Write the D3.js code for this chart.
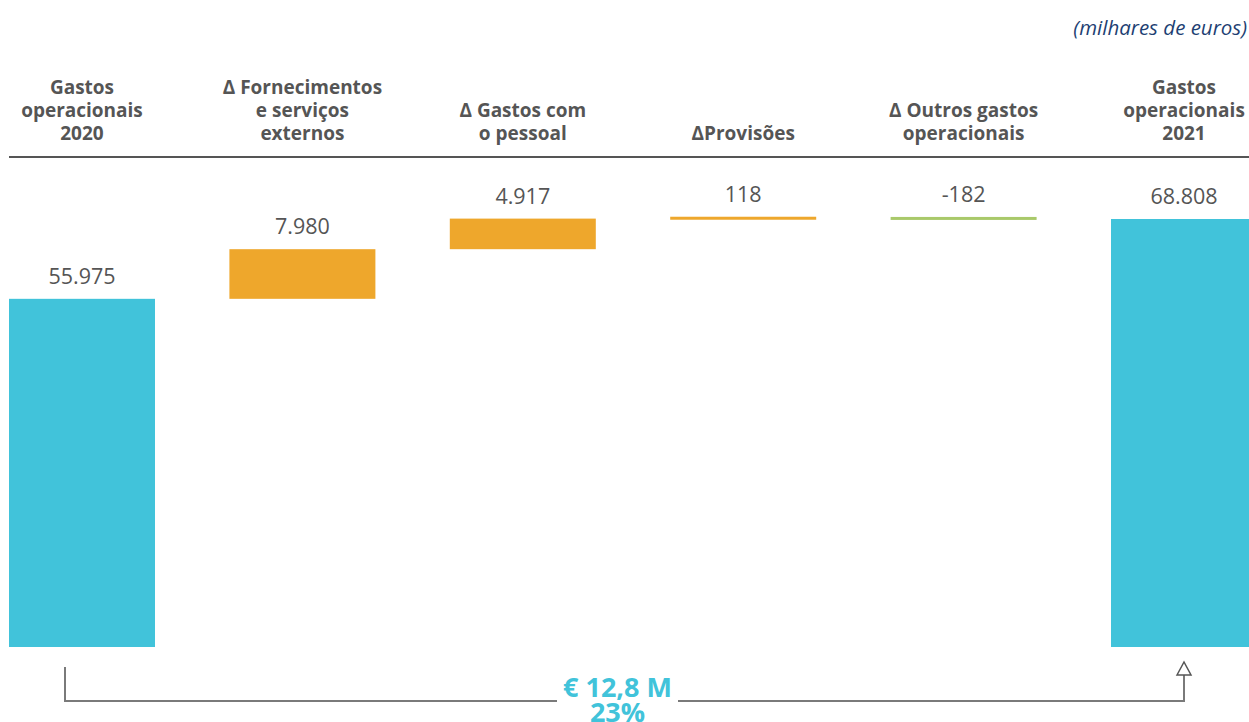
<!DOCTYPE html>
<html><head><meta charset="utf-8">
<script src="https://cdn.jsdelivr.net/npm/d3@7"></script>
<style>
html,body{margin:0;padding:0;background:#fff;}
svg{display:block;}
</style></head>
<body>
<script>
const categories = [
  ["Gastos", "operacionais", "2020"],
  ["Δ Fornecimentos", "e serviços", "externos"],
  ["Δ Gastos com", "o pessoal"],
  ["ΔProvisões"],
  ["Δ Outros gastos", "operacionais"],
  ["Gastos", "operacionais", "2021"]
];
const kinds = ["total", "delta", "delta", "delta", "delta", "total"];
const values = [55975, 7980, 4917, 118, -182, 68808];
const valueLabels = ["55.975", "7.980", "4.917", "118", "-182", "68.808"];
const unitLabel = "(milhares de euros)";
const changeLabels = ["€ 12,8 M", "23%"];

const W = 1249, H = 722;
const svg = d3.select("body").append("svg").attr("width", W).attr("height", H);

const colors = {total: "#41c3da", up: "#eea72c", down: "#a9c96a"};
const textGray = "#555555";

// compute waterfall
let run = 0;
const bars = values.map((v, i) => {
  let start, end;
  if (kinds[i] === "total") { start = 0; end = v; run = v; }
  else { start = run; end = run + v; run = end; }
  return {i, v, start, end, kind: kinds[i], label: valueLabels[i]};
});

const x = d3.scaleBand().domain(d3.range(categories.length)).range([9, 1257]).paddingInner(0.3376).paddingOuter(0);
const y = d3.scaleLinear().domain([0, 68808]).range([647, 219]);

// unit label
svg.append("text").attr("x", 1247).attr("y", 35).attr("text-anchor", "end")
  .attr("font-family", "'Open Sans', sans-serif").attr("font-style", "italic")
  .attr("font-size", 20.5).attr("fill", "#1e3f73").text(unitLabel);

// header labels
const lineH = 23;
categories.forEach((lines, i) => {
  const cx = x(i) + x.bandwidth() / 2;
  const n = lines.length;
  const t = svg.append("text").attr("text-anchor", "middle")
    .attr("font-family", "'Open Sans', sans-serif").attr("font-weight", 700)
    .attr("font-size", 19).attr("fill", textGray);
  lines.forEach((l, k) => {
    t.append("tspan").attr("x", cx).attr("y", 140 - (n - 1 - k) * lineH).text(l);
  });
});

// separator
svg.append("line").attr("x1", 9).attr("x2", 1249).attr("y1", 157).attr("y2", 157)
  .attr("stroke", "#555").attr("stroke-width", 2);

// bars
bars.forEach(b => {
  const top = y(Math.max(b.start, b.end));
  const bot = y(Math.min(b.start, b.end));
  let h = bot - top;
  let col = b.kind === "total" ? colors.total : (b.v >= 0 ? colors.up : colors.down);
  let yy = top;
  if (h < 3) { yy = top - (3 - h) / 2; h = 3; }
  svg.append("rect").attr("x", x(b.i)).attr("y", yy).attr("width", x.bandwidth()).attr("height", h).attr("fill", col);
  svg.append("text").attr("x", x(b.i) + x.bandwidth() / 2).attr("y", yy - 15)
    .attr("text-anchor", "middle").attr("font-family", "'Open Sans', sans-serif")
    .attr("font-size", 21.5).attr("fill", textGray).text(b.label);
});

// bottom bracket
const xL = 65, xR = x(5) + x.bandwidth() / 2, yB = 701;
const gapL = 557, gapR = 678;
const g = svg.append("g").attr("stroke", "#7a7a7a").attr("stroke-width", 2).attr("fill", "none");
g.append("path").attr("d", `M${xL},667 V${yB} H${gapL}`);
g.append("path").attr("d", `M${gapR},${yB} H${xR} V675`);
g.append("path").attr("d", `M${xR - 7},675 L${xR},662 L${xR + 7},675 Z`).attr("stroke", "#555").attr("stroke-width", 1.5).attr("fill", "#fff");

const cxT = (gapL + gapR) / 2;
svg.append("text").attr("x", cxT).attr("y", 697).attr("text-anchor", "middle")
  .attr("font-family", "'Open Sans', sans-serif").attr("font-weight", 700)
  .attr("font-size", 27).attr("fill", colors.total).text(changeLabels[0]);
svg.append("text").attr("x", cxT).attr("y", 722).attr("text-anchor", "middle")
  .attr("font-family", "'Open Sans', sans-serif").attr("font-weight", 700)
  .attr("font-size", 27).attr("fill", colors.total).text(changeLabels[1]);
</script>
</body></html>
